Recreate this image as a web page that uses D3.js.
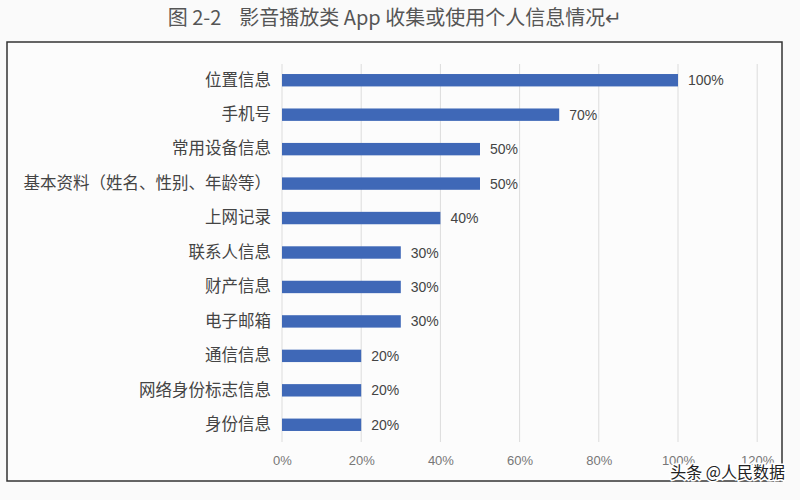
<!DOCTYPE html>
<html><head><meta charset="utf-8">
<script src="https://cdn.jsdelivr.net/npm/d3@7"></script>
<style>body{margin:0;background:#fafafa;}svg{display:block;}</style>
</head><body>
<script>
const categories = ["位置信息","手机号","常用设备信息","基本资料（姓名、性别、年龄等）","上网记录","联系人信息","财产信息","电子邮箱","通信信息","网络身份标志信息","身份信息"];
const values = [100,70,50,50,40,30,30,30,20,20,20];
const ticks = [0,20,40,60,80,100,120];
const title = "图 2-2    影音播放类 App 收集或使用个人信息情况↵";

const W=800,H=500;
const svg=d3.select("body").append("svg").attr("width",W).attr("height",H);
svg.append("rect").attr("width",W).attr("height",H).attr("fill","#fafafa");

svg.append("text").attr("x",395).attr("y",25).attr("text-anchor","middle")
  .style("white-space","pre").attr("xml:space","preserve")
  .attr("font-family","'Noto Sans CJK SC'").attr("font-size",20).attr("fill","#555")
  .text(title);

svg.append("rect").attr("x",7).attr("y",42).attr("width",775).attr("height",439)
  .attr("fill","#fcfcfc").attr("stroke","#333").attr("stroke-width",1.5);

const x=d3.scaleLinear().domain([0,100]).range([282,678]);
const y=d3.scaleBand().domain(categories).range([63,442]).paddingInner(0.64).paddingOuter(0.32);

const g=svg.append("g");
g.selectAll("line.grid").data(ticks).join("line").attr("class","grid")
  .attr("x1",d=>x(d)).attr("x2",d=>x(d)).attr("y1",64).attr("y2",442)
  .attr("stroke","#dcdcdc").attr("stroke-width",1);

const xAxis=d3.axisBottom(x).tickValues(ticks).tickFormat(d=>d+"%").tickSize(0).tickPadding(0);
const ax=svg.append("g").attr("transform","translate(0,465)").call(xAxis);
ax.select(".domain").remove();
ax.selectAll("text").attr("font-family","'Liberation Sans'").attr("font-size",13).attr("fill","#777").attr("dy","0");

const yAxis=d3.axisLeft(y).tickSize(0).tickPadding(11);
const ay=svg.append("g").attr("transform","translate(282,0)").call(yAxis);
ay.select(".domain").remove();
ay.selectAll("text").attr("font-family","'Noto Sans CJK SC'").attr("font-size",16.5).attr("fill","#444");

g.selectAll("rect.bar").data(values).join("rect").attr("class","bar")
  .attr("x",x(0)).attr("y",(d,i)=>y(categories[i]))
  .attr("width",d=>x(d)-x(0)).attr("height",y.bandwidth())
  .attr("fill","#3f68b7");

g.selectAll("text.val").data(values).join("text").attr("class","val")
  .attr("x",d=>x(d)+10).attr("y",(d,i)=>y(categories[i])+y.bandwidth()/2+5)
  .attr("font-family","'Liberation Sans'").attr("font-size",14).attr("fill","#444")
  .text(d=>d+"%");

svg.append("text").attr("x",785).attr("y",478).attr("text-anchor","end")
  .attr("font-family","'Noto Sans CJK SC'").attr("font-size",16).attr("fill","#222")
  .attr("stroke","#fff").attr("stroke-width",3).attr("paint-order","stroke")
  .text("头条 @人民数据");
</script>
</body></html>
